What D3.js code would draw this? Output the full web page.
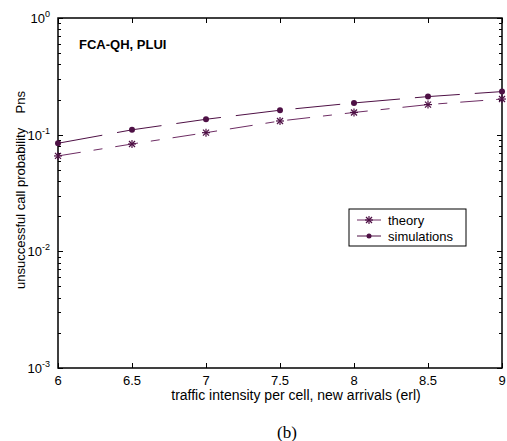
<!DOCTYPE html>
<html>
<head>
<meta charset="utf-8">
<script src="https://cdn.jsdelivr.net/npm/d3@7"></script>
<style>
  body { margin: 0; background: #fff; }
  svg { display: block; font-family: "Liberation Sans", Arial, sans-serif; }
</style>
</head>
<body>
<div id="chart"></div>
<script>
// ---------- data ----------
const traffic = [6, 6.5, 7, 7.5, 8, 8.5, 9];
const theory = [0.0657, 0.0832, 0.104, 0.131, 0.155, 0.181, 0.202];
const simulations = [0.0844, 0.110, 0.1355, 0.162, 0.187, 0.212, 0.234];
const xTicks = [6, 6.5, 7, 7.5, 8, 8.5, 9];
const yExps = [-3, -2, -1, 0];

// ---------- layout ----------
const W = 507, H = 441;
const pad = { top: 18, right: 5, bottom: 73, left: 58 };
const w = W - pad.left - pad.right;
const h = H - pad.top - pad.bottom;

const svg = d3.select("#chart").append("svg").attr("width", W).attr("height", H);
const g = svg.append("g").attr("transform", `translate(${pad.left},${pad.top})`);

const x = d3.scaleLinear().domain([6, 9]).range([0, w]);
const y = d3.scaleLog().domain([1e-3, 1]).range([h, 0]);

const simCol = "#4e1045", thCol = "#6d2c63";

// minor ticks (log 2..9 each decade)
const minors = [];
for (let e = -3; e < 0; e++) for (let k = 2; k <= 9; k++) minors.push(k * Math.pow(10, e));

const ticks = g.append("g").attr("stroke", "#000").attr("stroke-width", 1);
minors.forEach(v => {
  const yy = Math.round(y(v)) + 0.5;
  ticks.append("line").attr("x1", 0).attr("x2", 3).attr("y1", yy).attr("y2", yy);
  ticks.append("line").attr("x1", w - 3).attr("x2", w).attr("y1", yy).attr("y2", yy);
});
yExps.forEach(e => {
  const yy = Math.round(y(Math.pow(10, e))) + 0.5;
  ticks.append("line").attr("x1", 0).attr("x2", 5).attr("y1", yy).attr("y2", yy);
  ticks.append("line").attr("x1", w - 5).attr("x2", w).attr("y1", yy).attr("y2", yy);
});
xTicks.forEach(t => {
  const xx = Math.round(x(t)) + 0.5;
  ticks.append("line").attr("x1", xx).attr("x2", xx).attr("y1", h).attr("y2", h - 5);
  ticks.append("line").attr("x1", xx).attr("x2", xx).attr("y1", 0).attr("y2", 5);
});

// frame
g.append("rect").attr("x", 0).attr("y", 0).attr("width", w).attr("height", h)
  .attr("fill", "none").attr("stroke", "#000").attr("stroke-width", 1.5);

// tick labels
g.append("g").selectAll("text").data(xTicks).enter().append("text")
  .attr("x", d => x(d)).attr("y", h + 17)
  .attr("text-anchor", "middle").attr("font-size", 13).text(d => d);

const yl = g.append("g").selectAll("text").data(yExps).enter().append("text")
  .attr("x", -8).attr("y", d => y(Math.pow(10, d)) + 5)
  .attr("text-anchor", "end").attr("font-size", 13);
yl.append("tspan").text("10");
yl.append("tspan").attr("dy", -6).attr("font-size", 9).text(d => d);

// axis labels
svg.append("text").attr("x", 296).attr("y", 400)
  .attr("text-anchor", "middle").attr("font-size", 14)
  .text("traffic intensity per cell, new arrivals (erl)");
svg.append("text").attr("transform", `translate(25,190) rotate(-90)`)
  .attr("text-anchor", "middle").attr("font-size", 13).attr("xml:space", "preserve")
  .text("unsuccessful call probability    Pns");
svg.append("text").attr("x", 287).attr("y", 438)
  .attr("text-anchor", "middle").attr("font-size", 17)
  .attr("font-family", "'Liberation Serif', 'Times New Roman', serif").text("(b)");

g.append("text").attr("x", 21).attr("y", 31).attr("font-size", 13).attr("font-weight", "bold")
  .text("FCA-QH, PLUI");

// series
const line = d3.line().x((d, i) => x(traffic[i])).y(d => y(d));
g.append("path").attr("d", line(simulations)).attr("fill", "none")
  .attr("stroke", simCol).attr("stroke-width", 1).attr("stroke-dasharray", "45,15");
g.append("path").attr("d", line(theory)).attr("fill", "none")
  .attr("stroke", thCol).attr("stroke-width", 1).attr("stroke-dasharray", "23,13,9,13");

function star(sel, cx, cy, col) {
  const r = 4;
  const s = sel.append("g").attr("stroke", col).attr("stroke-width", 1.2);
  s.append("line").attr("x1", cx - r).attr("x2", cx + r).attr("y1", cy).attr("y2", cy);
  s.append("line").attr("x1", cx).attr("x2", cx).attr("y1", cy - r).attr("y2", cy + r);
  s.append("line").attr("x1", cx - 3).attr("x2", cx + 3).attr("y1", cy - 3).attr("y2", cy + 3);
  s.append("line").attr("x1", cx - 3).attr("x2", cx + 3).attr("y1", cy + 3).attr("y2", cy - 3);
}

g.append("g").selectAll("circle").data(simulations).enter().append("circle")
  .attr("cx", (d, i) => x(traffic[i])).attr("cy", d => y(d)).attr("r", 3).attr("fill", simCol);
const stars = g.append("g");
theory.forEach((d, i) => star(stars, x(traffic[i]), y(d), simCol));

// legend
const lg = svg.append("g").attr("transform", "translate(349,209)");
lg.append("rect").attr("x", 0).attr("y", 0).attr("width", 117).attr("height", 37)
  .attr("fill", "#fff").attr("stroke", "#000").attr("stroke-width", 1);
lg.append("line").attr("x1", 8).attr("x2", 32).attr("y1", 11).attr("y2", 11).attr("stroke", thCol);
star(lg, 20, 11, simCol);
lg.append("line").attr("x1", 8).attr("x2", 32).attr("y1", 27).attr("y2", 27).attr("stroke", simCol);
lg.append("circle").attr("cx", 20).attr("cy", 27).attr("r", 2.5).attr("fill", simCol);
lg.append("text").attr("x", 39).attr("y", 15.5).attr("font-size", 13).text("theory");
lg.append("text").attr("x", 39).attr("y", 31.5).attr("font-size", 13).text("simulations");
</script>
</body>
</html>
